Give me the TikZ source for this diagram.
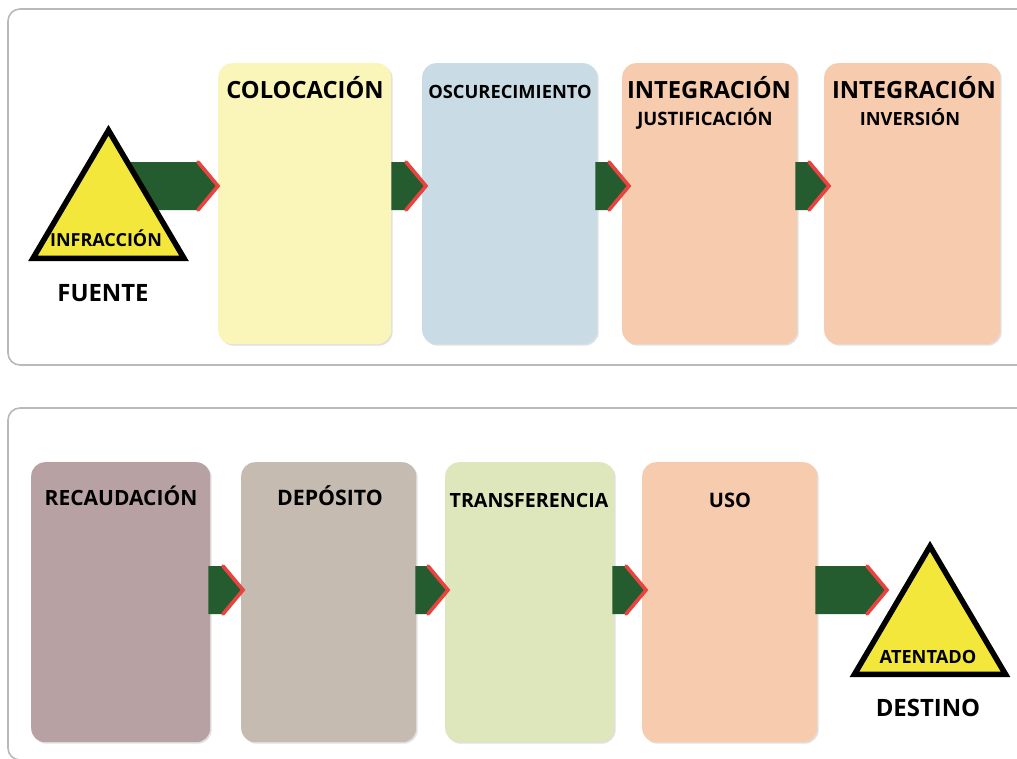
\documentclass[tikz,border=0pt]{standalone}
\usepackage{fontspec}
\setmainfont{Open Sans}
\usetikzlibrary{shapes.geometric,shadows,calc}
\definecolor{panelline}{HTML}{B9B9B9}
\definecolor{cyellow}{HTML}{FAF5B9}
\definecolor{cblue}{HTML}{C9DCE5}
\definecolor{cpeach}{HTML}{F6CBAE}
\definecolor{cmauve}{HTML}{B7A1A3}
\definecolor{ctaupe}{HTML}{C5BBB0}
\definecolor{cgreen}{HTML}{DDE7BB}
\definecolor{band}{HTML}{245C2F}
\definecolor{chev}{HTML}{E8433F}
\definecolor{warn}{HTML}{F2E73A}
\tikzset{
  x=1pt,y=-1pt,
  panel/.style={draw=panelline,line width=1.6pt,rounded corners=12pt},
  stage/.style={rounded corners=14pt,inner sep=0pt,anchor=north west,
    drop shadow={shadow xshift=1.5pt,shadow yshift=-1.5pt,opacity=.12,fill=black}},
  tri/.style={isosceles triangle,shape border rotate=90,isosceles triangle apex angle=61,
    isosceles triangle stretches,draw=black,fill=warn,line width=5.5pt,inner sep=0pt,
    minimum height=128pt,minimum width=151pt,anchor=lower side},
  lab/.style={text=black,inner sep=0pt,anchor=base},
  bandfill/.style={fill=band},
  chevron/.style={draw=chev,line width=3.6pt,line join=miter,line cap=round}
}
\newcommand\fs[1]{\bfseries\fontsize{#1}{#1}\selectfont}
% #1 start node, #2 end node, #3 y of the axis, #4 overlap at start, #5 overlap at end, #6 head length
\newcommand\bandarrow[6]{%
  \coordinate (s) at ($(#1.east |- 0,#3)+(#4,0)$);
  \coordinate (e) at ($(#2.west |- 0,#3)+(#5,0)$);
  \fill[bandfill] ($(s)+(0,-24)$) -- ($(e)+(-#6,-24)$) -- (e) -- ($(e)+(-#6,24)$) -- ($(s)+(0,24)$) -- cycle;
  \draw[chevron] ($(e)+(-#6,-24)$) -- ($(e)+(-1,0)$) -- ($(e)+(-#6,24)$);
}
\newcommand\stagebox[6]{% name, x1,y1,x2,y2, colour
  \node[stage,fill=#6,minimum width=#4pt-#2pt,minimum height=#5pt-#3pt] (#1) at (#2,#3) {};
}
\begin{document}
\begin{tikzpicture}
\useasboundingbox (0,0) rectangle (1017,758);
\fill[white] (0,0) rectangle (1017,758);
\begin{scope}
\clip (0,0) rectangle (1017,758);
\draw[panel] (1040,9) -- (8,9) -- (8,365) -- (1040,365);
\draw[panel] (1040,408) -- (8,408) -- (8,760) -- (1040,760);
\end{scope}

\stagebox{colocacion}{218}{63}{391}{344}{cyellow}
\stagebox{oscurecimiento}{422}{63}{597}{344}{cblue}
\stagebox{justificacion}{622}{63}{797}{344}{cpeach}
\stagebox{inversion}{824}{63}{1000}{344}{cpeach}
\stagebox{recaudacion}{31}{462}{210}{742}{cmauve}
\stagebox{deposito}{241}{462}{416}{742}{ctaupe}
\stagebox{transferencia}{445}{462}{614}{742}{cgreen}
\stagebox{uso}{642}{462}{817}{742}{cpeach}

\coordinate (fuenteanchor) at (108,186);
\coordinate (dest) at (888,590);

\fill[bandfill] (fuenteanchor |- 0,162) -- (198,162) -- (219,186) -- (198,210) -- (fuenteanchor |- 0,210) -- cycle;
\draw[chevron] (198,162) -- (218,186) -- (198,210);

\bandarrow{colocacion}{oscurecimiento}{186}{0}{5}{21}
\bandarrow{oscurecimiento}{justificacion}{186}{-2}{8}{21}
\bandarrow{justificacion}{inversion}{186}{-2}{6}{21}
\bandarrow{recaudacion}{deposito}{590}{-2}{3}{21}
\bandarrow{deposito}{transferencia}{590}{-1}{4}{21}
\bandarrow{transferencia}{uso}{590}{-2}{5}{21}
\bandarrow{uso}{dest}{590}{-2}{0}{21}

\node[tri] (infraccion) at (108.5,261) {};
\node[tri] (atentado) at (930,677) {};

\node[lab,font=\fs{23.7}] (t1) at (305,98) {COLOCACIÓN};
\node[lab,font=\fs{18.3}] (t2) at (510,98) {OSCURECIMIENTO};
\node[lab,font=\fs{23.7}] (t3) at (709,98) {INTEGRACIÓN};
\node[lab,font=\fs{18.5}] (t4) at (705,125) {JUSTIFICACIÓN};
\node[lab,font=\fs{23.7}] (t5) at (914,98) {INTEGRACIÓN};
\node[lab,font=\fs{18.2}] (t6) at (910,125) {INVERSIÓN};
\node[lab,font=\fs{18}] (t7) at (106,246) {INFRACCIÓN};
\node[lab,font=\fs{23.9}] (t8) at (103,301) {FUENTE};
\node[lab,font=\fs{21}] (t9) at (121,505) {RECAUDACIÓN};
\node[lab,font=\fs{21.3}] (t10) at (330,505) {DEPÓSITO};
\node[lab,font=\fs{19.6}] (t11) at (529,507) {TRANSFERENCIA};
\node[lab,font=\fs{20}] (t12) at (730,507) {USO};
\node[lab,font=\fs{18.2}] (t13) at (928,663) {ATENTADO};
\node[lab,font=\fs{23.9}] (t14) at (928,716) {DESTINO};
\end{tikzpicture}
\end{document}
